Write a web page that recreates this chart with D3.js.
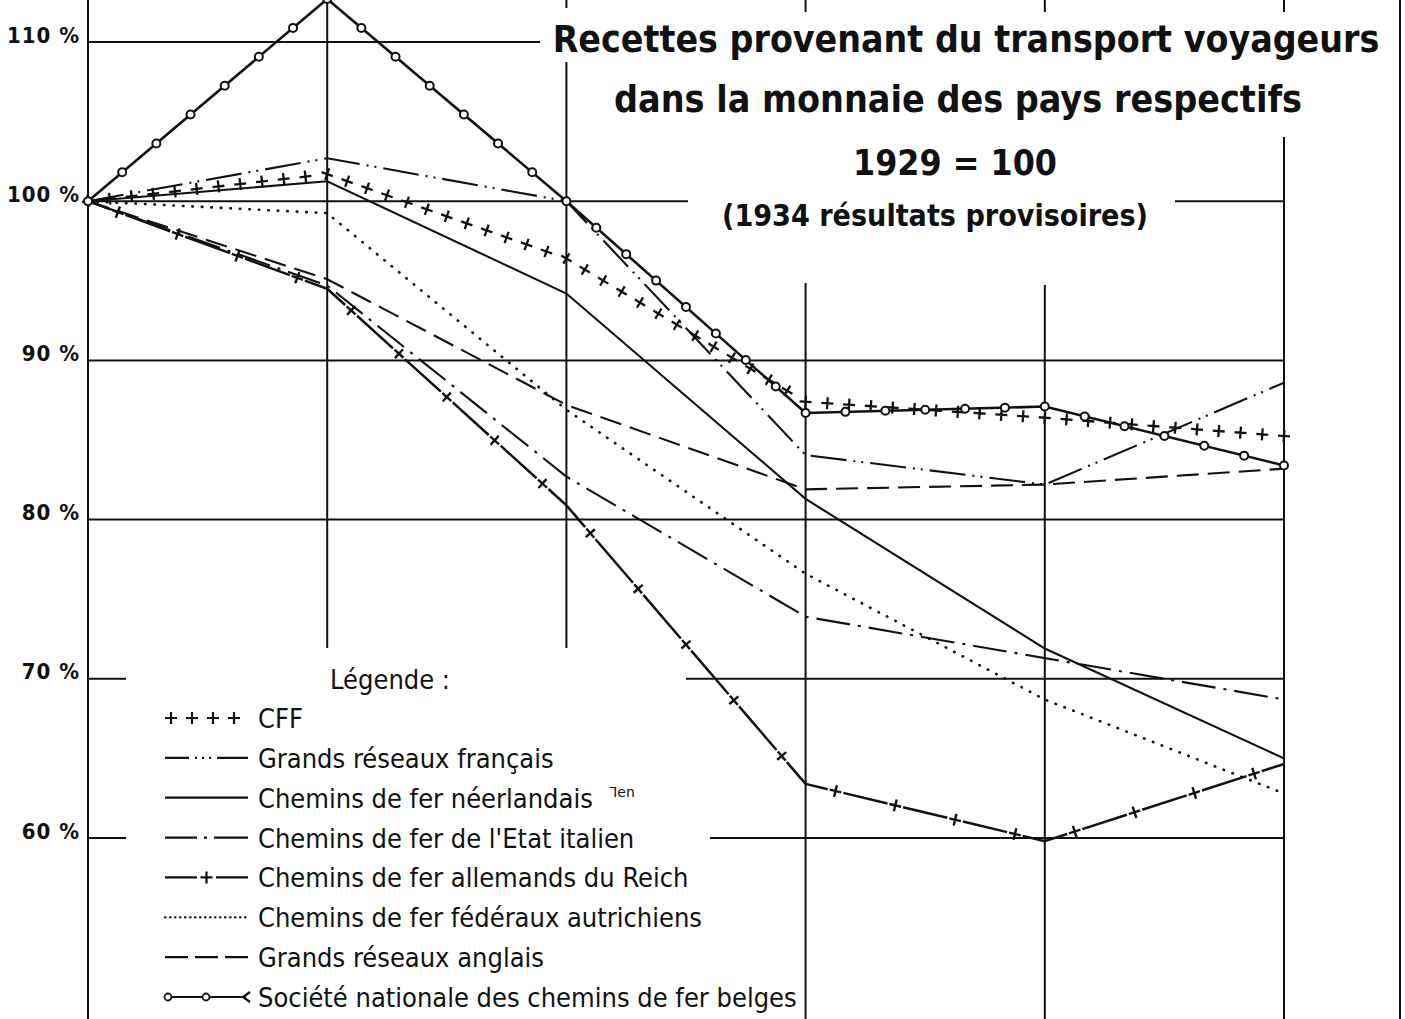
<!DOCTYPE html>
<html>
<head>
<meta charset="utf-8">
<script src="https://cdnjs.cloudflare.com/ajax/libs/d3/7.8.5/d3.min.js"></script>
<style>
body { margin: 0; background: #fff; }
svg { display: block; background: #fff; }
text { font-family: "DejaVu Sans Condensed", "Liberation Sans Narrow", sans-serif; fill: #111; }
</style>
</head>
<body>
<div id="chart"></div>
<script>
// years on the x axis, index values (1929 = 100)
var years = [1929, 1930, 1931, 1932, 1933, 1934]
var yTicks = [110, 100, 90, 80, 70, 60]

var cff = [100, 101.7, 96.4, 87.4, 86.4, 85.25]
var francais = [100, 102.7, 100.0, 84.05, 82.2, 88.6]
var neerlandais = [100, 101.25, 94.2, 81.3, 71.9, 65.0]
var italien = [100, 94.7, 82.7, 73.9, 71.3, 68.7]
var allemands = [100, 94.5, 80.9, 63.4, 59.8, 64.65]
var autrichiens = [100, 99.25, 86.9, 76.6, 68.7, 62.8]
var anglais = [100, 95.1, 87.2, 81.9, 82.2, 83.2]
var belges = [100, 112.7, 100.0, 86.7, 87.1, 83.4]

var names = ["CFF", "Grands réseaux français", "Chemins de fer néerlandais",
    "Chemins de fer de l'Etat italien", "Chemins de fer allemands du Reich",
    "Chemins de fer fédéraux autrichiens", "Grands réseaux anglais",
    "Société nationale des chemins de fer belges"]

var titleLines = ["Recettes provenant du transport voyageurs",
    "dans la monnaie des pays respectifs", "1929 = 100", "(1934  résultats provisoires)"]

var series = [cff, francais, neerlandais, italien, allemands, autrichiens, anglais, belges]
    .map((v, i) => ({ name: names[i], values: v }))

// drawing styles, same order as the series
var styles = [
    { type: "plus" },
    { dash: "36,7,2,6,2,7", legend: "24,6,2,5,2,5,2,6,31,100" },
    { dash: null, legend: null },
    { dash: "34,8,3,8", legend: "32,7,3,7,34,100" },
    { type: "cross" },
    { dash: "0.5,9", cap: "round", legend: "0.5,4.5", width: 2.6 },
    { dash: "22,9", legend: "23,7,23,7,23,100" },
    { type: "circle" }
]

var W = 1405, H = 1019
var x = d3.scaleLinear().domain([1929, 1934]).range([88, 1284])
var y = d3.scaleLinear().domain([60, 110]).range([838, 42])

var svg = d3.select("#chart")
    .append("svg")
    .attr("width", W)
    .attr("height", H)

// grid, with the breaks left around the title and the legend
var hBreaks = { 110: [[88, 540]], 100: [[88, 688], [1175, 1284]], 90: [[88, 1284]],
    80: [[88, 1284]], 70: [[88, 126], [686, 1284]], 60: [[88, 126], [710, 1284]] }
var vBreaks = { 1929: [[0, H]], 1930: [[0, 648]], 1931: [[0, 8], [62, 648]],
    1932: [[0, 12], [283, H]], 1933: [[0, 12], [285, H]], 1934: [[0, 12], [137, H]] }

var grid = svg.append("g").attr("stroke", "#111").attr("stroke-width", 2)
yTicks.forEach(function (t) {
    hBreaks[t].forEach(function (s) {
        grid.append("line").attr("x1", s[0]).attr("x2", s[1]).attr("y1", y(t)).attr("y2", y(t))
    })
})
years.forEach(function (yr) {
    vBreaks[yr].forEach(function (s) {
        grid.append("line").attr("x1", x(yr)).attr("x2", x(yr)).attr("y1", s[0]).attr("y2", s[1])
    })
})
grid.append("line").attr("x1", 1400).attr("x2", 1400).attr("y1", 0).attr("y2", H)

// tick labels
var axis = svg.append("g")
    .attr("transform", "translate(80,0)")
    .call(d3.axisLeft(y).tickValues(yTicks).tickFormat(d => d + " %").tickSize(0).tickPadding(0))
axis.select(".domain").remove()
axis.selectAll("text")
    .attr("dy", "0")
    .style("font-family", "'DejaVu Sans Condensed', sans-serif")
    .style("font-size", "22px")
    .style("font-weight", 700)
    .style("letter-spacing", "1px")
    .attr("fill", "#111")

// points along a polyline, every ~spacing px
function along(pts, spacing, mid) {
    var out = []
    for (var i = 0; i < pts.length - 1; i++) {
        var a = pts[i], b = pts[i + 1]
        var L = Math.hypot(b[0] - a[0], b[1] - a[1])
        var n = Math.max(1, Math.round(L / spacing))
        var ang = Math.atan2(b[1] - a[1], b[0] - a[0]) * 180 / Math.PI
        for (var k = 0; k < n; k++) {
            var t = mid ? (k + 0.5) / n : k / n
            out.push({ x: a[0] + (b[0] - a[0]) * t, y: a[1] + (b[1] - a[1]) * t, a: ang })
        }
        if (!mid && i == pts.length - 2) out.push({ x: b[0], y: b[1], a: ang })
    }
    return out
}

var line = d3.line().x((d, i) => x(years[i])).y(d => y(d))
var plusPath = "M-6,0L6,0M0,-6L0,6"
var plots = svg.append("g").attr("fill", "none").attr("stroke", "#111")

series.forEach(function (s, i) {
    var st = styles[i]
    var pts = s.values.map((v, j) => [x(years[j]), y(v)])
    if (st.type == "plus") {
        plots.selectAll(".cff").data(along(pts, 22, false)).enter()
            .append("path")
            .attr("d", plusPath)
            .attr("stroke-width", 2.3)
            .attr("transform", d => "translate(" + d.x + "," + d.y + ") rotate(" + d.a + ")")
    } else if (st.type == "cross") {
        for (var k = 0; k < pts.length - 1; k++) {
            var a = pts[k], b = pts[k + 1]
            var L = Math.hypot(b[0] - a[0], b[1] - a[1])
            var n = Math.max(1, Math.round(L / 68))
            var period = L / n, gap = 16, dash = period - gap
            plots.append("line")
                .attr("x1", a[0]).attr("y1", a[1]).attr("x2", b[0]).attr("y2", b[1])
                .attr("stroke-width", 2.5)
                .attr("stroke-dasharray", dash + "," + gap)
                .attr("stroke-dashoffset", dash / 2)
        }
        plots.selectAll(".reich").data(along(pts, 68, true)).enter()
            .append("path")
            .attr("d", plusPath)
            .attr("stroke-width", 2.4)
            .attr("transform", d => "translate(" + d.x + "," + d.y + ") rotate(" + d.a + ")")
    } else if (st.type == "circle") {
        plots.append("path")
            .attr("d", line(s.values))
            .attr("stroke-width", 2.6)
        plots.selectAll(".belg").data(along(pts, 42, false)).enter()
            .append("circle")
            .attr("cx", d => d.x)
            .attr("cy", d => d.y)
            .attr("r", 4)
            .attr("fill", "#fff")
            .attr("stroke-width", 2)
    } else {
        plots.append("path")
            .attr("d", line(s.values))
            .attr("stroke-width", st.width || 2.1)
            .attr("stroke-linecap", st.cap || "butt")
            .attr("stroke-dasharray", st.dash)
    }
})

// fit a text to a wanted width by scaling its font size
function fit(sel, size, width) {
    sel.style("font-size", size + "px")
    var w = sel.node().getComputedTextLength()
    sel.style("font-size", (size * width / w) + "px")
}

// title
var title = svg.append("g").style("font-weight", 700).attr("text-anchor", "middle")
var tPos = [[966, 52, 827], [958, 112, 688], [955, 175, 204], [935, 226, 426]]
titleLines.forEach(function (t, i) {
    var tx = title.append("text")
        .text(t)
        .attr("x", tPos[i][0])
        .attr("y", tPos[i][1])
    fit(tx, 40, tPos[i][2])
})

// legend
var legend = svg.append("g")
legend.append("text")
    .text("Légende :")
    .attr("x", 330)
    .attr("y", 689)
    .style("font-size", "27px")

var ly = d3.scaleLinear().domain([0, 7]).range([728, 1007])
series.forEach(function (s, i) {
    var st = styles[i]
    var g = legend.append("g").attr("transform", "translate(0," + ly(i) + ")")
    var label = g.append("text")
        .text(s.name)
        .attr("x", 258)
        .attr("y", 0)
        .style("font-size", "27px")
    var sy = -10
    var sample = g.append("g").attr("fill", "none").attr("stroke", "#111").attr("stroke-width", 2.2)
    if (st.type == "plus") {
        [171, 192, 213, 234].forEach(function (px) {
            sample.append("path").attr("d", plusPath).attr("transform", "translate(" + px + "," + sy + ")")
        })
    } else if (st.type == "cross") {
        sample.append("line").attr("x1", 165).attr("x2", 248).attr("y1", sy).attr("y2", sy)
            .attr("stroke-dasharray", "32,19,32,100")
        sample.append("path").attr("d", plusPath).attr("transform", "translate(206.5," + sy + ")")
    } else if (st.type == "circle") {
        sample.append("line").attr("x1", 168).attr("x2", 246).attr("y1", sy).attr("y2", sy)
        sample.append("path").attr("d", "M250," + (sy - 5) + "L243," + sy + "L250," + (sy + 5))
        ;[168, 206].forEach(function (px) {
            sample.append("circle").attr("cx", px).attr("cy", sy).attr("r", 3.5).attr("fill", "#fff").attr("stroke-width", 1.8)
        })
    } else {
        sample.append("line").attr("x1", 165).attr("x2", 248).attr("y1", sy).attr("y2", sy)
            .attr("stroke-linecap", st.cap || "butt")
            .attr("stroke-dasharray", st.legend)
    }
    if (i == 2) {
        g.append("text")
            .text("ᒣen")
            .attr("x", 258 + label.node().getComputedTextLength() + 16)
            .attr("y", -11)
            .style("font-family", "'DejaVu Sans', sans-serif")
            .style("font-size", "14px")
    }
})
</script>
</body>
</html>
